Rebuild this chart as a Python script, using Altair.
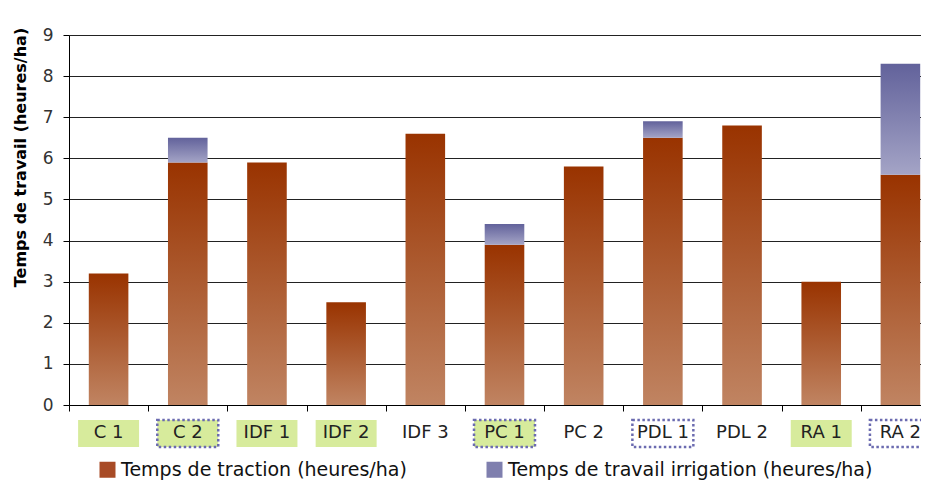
import altair as alt
import pandas as pd

categories = ["C 1", "C 2", "IDF 1", "IDF 2", "IDF 3", "PC 1", "PC 2", "PDL 1", "PDL 2", "RA 1", "RA 2"]
traction = [3.2, 5.9, 5.9, 2.5, 6.6, 3.9, 5.8, 6.5, 6.8, 3.0, 5.6]
irrigation = [0.0, 0.6, 0.0, 0.0, 0.0, 0.5, 0.0, 0.4, 0.0, 0.0, 2.7]
green_labels = ["C 1", "C 2", "IDF 1", "IDF 2", "PC 1", "RA 1"]
dotted_labels = ["C 2", "PC 1", "PDL 1", "RA 2"]
series = ["Temps de traction (heures/ha)", "Temps de travail irrigation (heures/ha)"]
y_ticks = [0, 1, 2, 3, 4, 5, 6, 7, 8, 9]

df = pd.DataFrame({"cat": categories, "traction": traction, "irrig": irrigation})
df["total"] = df["traction"] + df["irrig"]
df["green"] = df["cat"].isin(green_labels)
df["dotted"] = df["cat"].isin(dotted_labels)

FONT = "DejaVu Sans"

x_axis = alt.Axis(title=None, labels=False, tickBand="extent", tickSize=6,
                  tickColor="black", domainColor="black", grid=False)
x_enc = alt.X("cat:N", sort=categories, axis=x_axis,
              scale=alt.Scale(paddingInner=0, paddingOuter=0))

y_axis = alt.Axis(values=y_ticks, format="d", title="Temps de travail (heures/ha)",
                  titleFont=FONT, titleFontSize=16, titleFontWeight="bold", titleColor="black",
                  titleAngle=270, titleX=-49, titleY=122, titleBaseline="middle", titleAlign="center",
                  labelFont=FONT, labelFontSize=17, labelColor="#333", labelPadding=10,
                  tickSize=6, tickColor="black", domainColor="black",
                  grid=True, gridColor="#222", gridOpacity=1)
y_scale = alt.Scale(domain=[0, 9], nice=False)

base = alt.Chart(df)

trac_grad = alt.LinearGradient(gradient="linear",
                               stops=[alt.GradientStop(color="#993300", offset=0),
                                      alt.GradientStop(color="#c08462", offset=1)],
                               x1=0, x2=0, y1=0, y2=1)
irr_grad = alt.LinearGradient(gradient="linear",
                              stops=[alt.GradientStop(color="#62629b", offset=0),
                                     alt.GradientStop(color="#a4a4c6", offset=1)],
                              x1=0, x2=0, y1=0, y2=1)

trac = base.mark_bar(width=alt.RelativeBandSize(0.5), color=trac_grad).encode(
    x=x_enc,
    y=alt.Y("traction:Q", scale=y_scale, axis=y_axis),
)

irr = base.transform_filter("datum.irrig > 0").mark_bar(
    width=alt.RelativeBandSize(0.5), color=irr_grad).encode(
    x=x_enc,
    y=alt.Y("traction:Q", scale=y_scale, axis=y_axis),
    y2="total:Q",
)

green_boxes = base.transform_filter("datum.green").mark_bar(
    width=alt.RelativeBandSize(0.77), color="#d7eb9c").encode(
    x=x_enc, y=alt.value(385), y2=alt.value(412))

dotted_boxes = base.transform_filter("datum.dotted").mark_bar(
    width=alt.RelativeBandSize(0.77), fillOpacity=0, stroke="#6b6bb0",
    strokeWidth=2.5, strokeDash=[2.5, 2.5]).encode(
    x=x_enc, y=alt.value(385), y2=alt.value(412))

labels = base.mark_text(font=FONT, fontSize=18, color="#222", baseline="middle").encode(
    x=x_enc, y=alt.value(398), text="cat:N")

legend_df = pd.DataFrame({"series": series})
legend_layer = alt.Chart(legend_df).mark_square(opacity=0).encode(
    x=alt.value(0), y=alt.value(0),
    color=alt.Color("series:N", scale=alt.Scale(domain=series, range=["#a84b26", "#7f7fae"]),
                    legend=alt.Legend(orient="none", legendX=29, legendY=425,
                                      direction="horizontal", title=None,
                                      symbolType="square", symbolSize=256, symbolOpacity=1,
                                      symbolStrokeWidth=0,
                                      labelFont=FONT, labelFontSize=19, labelColor="#111",
                                      labelLimit=600, labelOffset=4, columnPadding=78,
                                      padding=0, offset=0)),
)

chart = alt.layer(green_boxes, dotted_boxes, labels, trac, irr, legend_layer).properties(
    width=871, height=370,
    autosize=alt.AutoSizeParams(type="none"),
    padding={"left": 61, "top": 27, "right": -19, "bottom": 76},
).configure_view(stroke=None).configure(background="white")

chart.save("out.html", embed_options={"renderer": "svg", "actions": False})
